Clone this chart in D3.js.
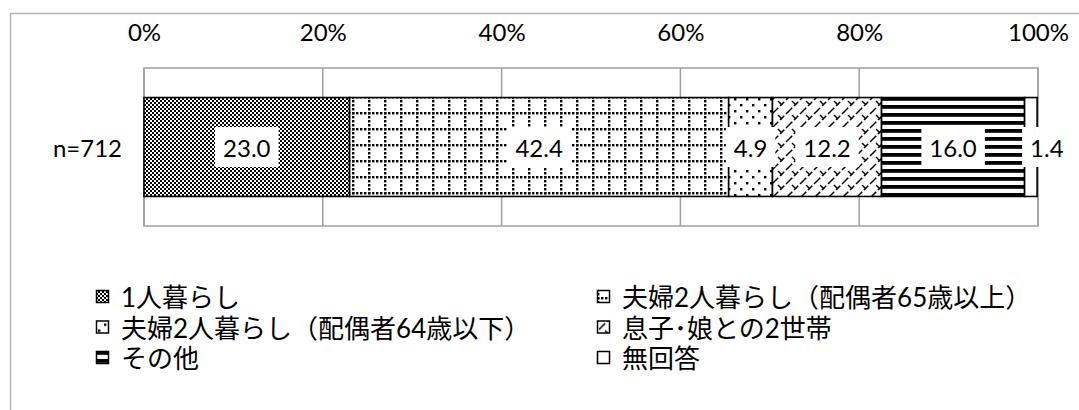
<!DOCTYPE html>
<html>
<head>
<meta charset="utf-8">
<script src="https://cdn.jsdelivr.net/npm/d3@7"></script>
<style>
  body { margin: 0; background: #fff; }
  svg { display: block; }
  text { font-family: Lato, "Noto Sans CJK JP", sans-serif; fill: #000; }
</style>
</head>
<body>
<svg id="chart" width="1079" height="410"></svg>
<script>
// Household composition of respondents (percent, one stacked bar)
const categories = [
  "1人暮らし",
  "夫婦2人暮らし（配偶者65歳以上）",
  "夫婦2人暮らし（配偶者64歳以下）",
  "息子･娘との2世帯",
  "その他",
  "無回答"
];
const values = [23.0, 42.4, 4.9, 12.2, 16.0, 1.4];
const rowLabels = ["n=712"];
const tickValues = [0, 0.2, 0.4, 0.6, 0.8, 1.0];

const svg = d3.select("#chart");
const W = 1079, H = 410;
const plot = { left: 144, right: 1038, top: 68, bottom: 226 };
const FONT = 24;
const LEGEND_FONT = 26;

// outer chart frame (runs off the right and bottom edges)
svg.append("rect")
  .attr("x", 10.5).attr("y", 13.5)
  .attr("width", W + 20).attr("height", H + 20)
  .attr("fill", "#fff").attr("stroke", "#b4b4b4").attr("stroke-width", 1.5);

// ---- fill patterns ----
const defs = svg.append("defs");
function pattern(id, w, h) {
  const p = defs.append("pattern").attr("id", id)
    .attr("patternUnits", "userSpaceOnUse")
    .attr("x", plot.left).attr("y", 0)
    .attr("width", w).attr("height", h);
  p.append("rect").attr("width", w).attr("height", h).attr("fill", "#fff");
  return p;
}
// checker
{
  const p = pattern("pat0", 4, 4);
  p.append("rect").attr("x", 0).attr("y", 0).attr("width", 2).attr("height", 2).attr("fill", "#000");
  p.append("rect").attr("x", 2).attr("y", 2).attr("width", 2).attr("height", 2).attr("fill", "#000");
}
// dotted grid
{
  const p = pattern("pat1", 16, 16);
  for (let i = 0; i < 16; i += 4) {
    p.append("rect").attr("x", i).attr("y", 0).attr("width", 2.4).attr("height", 2.4).attr("fill", "#000");
    p.append("rect").attr("x", 0).attr("y", i).attr("width", 2.4).attr("height", 2.4).attr("fill", "#000");
  }
}
// sparse dots
{
  const p = pattern("pat2", 12, 12);
  p.append("rect").attr("x", 2).attr("y", 2).attr("width", 2.4).attr("height", 2.4).attr("fill", "#000");
  p.append("rect").attr("x", 8).attr("y", 8).attr("width", 2.4).attr("height", 2.4).attr("fill", "#000");
}
// zigzag lattice
{
  const p = pattern("pat3", 14, 14);
  p.append("path").attr("d", "M0,14L14,0M-3,3L3,-3M11,17L17,11")
    .attr("stroke", "#000").attr("stroke-width", 1.5).attr("stroke-dasharray", "6,2.5");
  p.append("path").attr("d", "M4,3L8,7")
    .attr("stroke", "#000").attr("stroke-width", 1.5);
}
// horizontal stripes
{
  const p = pattern("pat4", 8, 8);
  p.append("rect").attr("x", 0).attr("y", 1).attr("width", 8).attr("height", 3.8).attr("fill", "#000");
}
// plain white
pattern("pat5", 8, 8);

const fills = categories.map((c, i) => `url(#pat${i})`);

// ---- scales ----
const x = d3.scaleLinear().domain([0, 1]).range([plot.left, plot.right]);
const y = d3.scaleBand().domain(rowLabels).range([plot.top, plot.bottom])
  .paddingInner(0.23).paddingOuter(0.23);

// plot area + gridlines
svg.append("rect")
  .attr("x", plot.left).attr("y", plot.top)
  .attr("width", plot.right - plot.left).attr("height", plot.bottom - plot.top)
  .attr("fill", "#fff").attr("stroke", "#a0a0a0").attr("stroke-width", 1.5);
svg.append("g").selectAll("line").data(tickValues).join("line")
  .attr("x1", d => x(d)).attr("x2", d => x(d))
  .attr("y1", plot.top).attr("y2", plot.bottom)
  .attr("stroke", "#a0a0a0").attr("stroke-width", 1.5);

// top percentage axis
const axis = svg.append("g")
  .attr("transform", `translate(0,${plot.top - 27})`)
  .call(d3.axisTop(x).tickValues(tickValues).tickFormat(d3.format(".0%")).tickSize(0).tickPadding(0));
axis.select(".domain").remove();
axis.selectAll("text")
  .style("font-family", 'Lato, "Noto Sans CJK JP", sans-serif')
  .attr("font-size", FONT).attr("fill", "#000");

// category axis label
svg.append("g").selectAll("text").data(rowLabels).join("text")
  .attr("x", plot.left - 22)
  .attr("y", d => y(d) + y.bandwidth() / 2)
  .attr("text-anchor", "end").attr("dominant-baseline", "central")
  .attr("font-size", FONT).text(d => d);

// stacked segments
const segs = [];
let acc = 0;
values.forEach((v, i) => { segs.push({ cat: categories[i], v, x0: acc, x1: acc + v, i }); acc += v; });

const row = rowLabels[0];
svg.append("g").selectAll("rect").data(segs).join("rect")
  .attr("x", d => x(d.x0 / 100)).attr("y", y(row))
  .attr("width", d => x(d.x1 / 100) - x(d.x0 / 100))
  .attr("height", y.bandwidth())
  .attr("fill", d => fills[d.i])
  .attr("stroke", "#000").attr("stroke-width", 1.6);

// value labels on white boxes
const lab = svg.append("g").selectAll("g").data(segs).join("g")
  .attr("transform", d => {
    const cx = (x(d.x0 / 100) + x(d.x1 / 100)) / 2 + (d.v < 3 ? 16 : 0);
    return `translate(${cx},${y(row) + y.bandwidth() / 2})`;
  });
lab.append("text")
  .attr("text-anchor", "middle").attr("dominant-baseline", "central")
  .attr("font-size", FONT)
  .text(d => d.v.toFixed(1));
lab.each(function () {
  const g = d3.select(this);
  const bb = g.select("text").node().getBBox();
  g.insert("rect", "text")
    .attr("x", bb.x - 8).attr("y", -20)
    .attr("width", bb.width + 16).attr("height", 40)
    .attr("fill", "#fff");
});

// legend (two columns, row-major)
const legend = svg.append("g").selectAll("g").data(categories).join("g")
  .attr("transform", (d, i) => `translate(${i % 2 === 0 ? 96 : 597},${297 + Math.floor(i / 2) * 30.5})`);
legend.append("rect")
  .attr("x", 0.5).attr("y", -6.5).attr("width", 12).attr("height", 12)
  .attr("fill", (d, i) => fills[i]).attr("stroke", "#000").attr("stroke-width", 1.5);
legend.append("text")
  .attr("x", 25).attr("y", 0)
  .attr("dominant-baseline", "central")
  .attr("font-size", LEGEND_FONT).text(d => d);
</script>
</body>
</html>
